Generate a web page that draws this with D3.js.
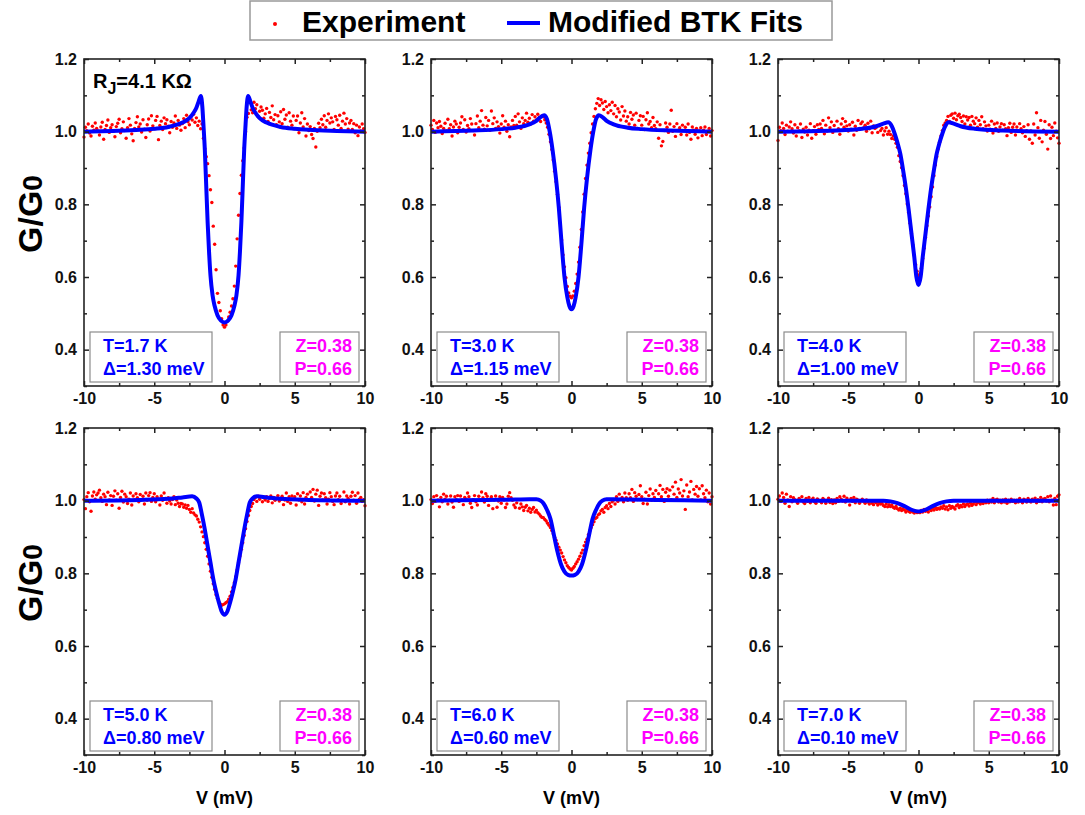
<!DOCTYPE html>
<meta charset="utf-8">
<head>
    <meta charset="UTF-8">
    <title>Modified BTK fits of G/G0 vs V</title>
    <style>
      body { margin: 0; background: #fff; }
      text { font-family: "Liberation Sans", Arial, sans-serif; font-weight: bold; }
    </style>
</head>
<body>
<script src="https://d3js.org/d3.v7.min.js"></script>
<div id="chart"></div>
<script>

    // bias sweep, -10 .. 10 mV in 0.1 mV steps (x grid of every measured curve)
    const voltage = d3.range(-100, 101).map(i => i / 10);

    // measured G/G0, one value per voltage step
    const expT17 = [
      0.985,1.012,1.003,1.021,0.996,0.988,1.015,1.004,1.024,1.009,
      1.002,0.991,1.013,1.026,0.979,1.006,1.017,1.032,0.998,1.011,
      1.019,1.001,0.986,1.014,1.023,1.034,0.997,1.008,1.027,1.003,
      0.982,1.011,1.036,1.018,0.994,0.975,1.009,1.025,1.041,1.013,
      1.021,0.999,1.033,1.007,0.984,1.019,1.035,1.002,1.044,1.016,
      1.008,1.031,1.042,0.978,1.017,1.029,1.006,1.038,1.022,1.033,
      1.015,0.997,1.028,1.012,1.024,1.043,1.009,1.031,1.018,1.004,
      1.022,1.036,1.011,1.045,1.027,1.019,1.041,1.032,1.048,1.026,
      1.038,1.017,1.029,1.008,1.021,0.982,0.953,0.931,0.912,0.879,
      0.84,0.805,0.74,0.69,0.62,0.555,0.53,0.507,0.485,0.468,
      0.462,0.468,0.478,0.49,0.503,0.52,0.54,0.575,0.63,0.705,
      0.77,0.83,0.88,0.92,0.955,1.00,1.04,1.05,1.08,1.06,
      1.052,1.081,1.063,1.074,1.041,1.056,1.068,1.059,1.037,1.049,
      1.064,1.028,1.053,1.039,1.071,1.033,1.047,1.019,1.044,1.027,
      1.055,1.022,1.061,1.034,1.046,1.012,1.052,1.029,1.018,1.043,
      1.008,1.031,1.043,0.997,1.024,1.052,1.013,1.036,0.988,1.021,
      1.003,1.014,0.992,0.981,1.009,0.958,1.001,1.023,1.011,1.034,
      1.019,1.044,1.012,1.031,1.049,1.024,1.038,1.027,1.006,1.042,
      1.033,1.018,1.045,1.009,1.029,1.051,1.021,1.036,1.007,1.024,
      1.031,1.006,1.022,0.997,1.018,0.989,1.013,1.002,1.021,1.008,
      0.998];
    const expT30 = [
      1.018,1.006,1.031,0.998,1.024,1.011,1.028,1.015,0.995,1.009,
      1.023,1.002,1.034,1.008,1.019,0.988,1.013,1.029,1.021,0.997,
      1.012,1.024,1.041,1.006,1.033,0.999,1.017,1.008,1.036,1.021,
      1.003,0.991,1.022,1.043,1.011,1.029,1.058,1.018,1.007,1.039,
      1.016,1.031,1.004,1.057,1.022,1.038,1.009,1.027,1.014,0.996,
      1.021,1.044,1.012,1.029,1.001,1.019,0.986,1.013,1.031,1.017,
      1.042,1.018,1.049,1.027,1.009,1.038,1.022,1.031,1.051,1.026,
      1.037,1.021,1.047,1.029,1.041,1.032,1.048,1.039,1.028,1.043,
      1.041,1.033,1.024,1.012,0.993,0.972,0.951,0.922,0.891,0.862,
      0.828,0.792,0.748,0.702,0.661,0.628,0.598,0.574,0.556,0.547,
      0.543,0.548,0.561,0.582,0.608,0.641,0.682,0.731,0.779,0.828,
      0.871,0.908,0.941,0.968,0.997,1.021,1.042,1.063,1.078,1.091,
      1.072,1.088,1.079,1.061,1.083,1.069,1.052,1.074,1.058,1.081,
      1.049,1.072,1.041,1.063,1.054,1.032,1.069,1.043,1.057,1.029,
      1.041,1.021,1.053,1.034,1.046,1.018,1.051,1.009,1.031,1.044,
      1.018,1.042,1.006,1.033,1.052,1.021,1.028,1.011,1.039,1.017,
      1.008,1.027,0.982,1.019,0.961,0.973,1.003,1.024,1.012,0.998,
      1.021,1.059,1.001,1.014,0.987,1.022,1.004,1.011,0.992,1.018,
      1.003,1.012,0.991,1.021,0.998,0.979,1.013,1.004,0.993,1.009,
      0.983,1.002,1.011,0.989,1.004,1.013,0.992,1.001,1.009,0.988,
      1.003];
    const expT40 = [
      0.976,1.012,1.003,1.024,1.009,0.992,1.018,1.001,1.013,1.027,
      1.008,0.996,1.019,0.988,1.011,1.002,1.021,0.984,1.007,0.999,
      1.012,0.991,1.004,1.022,0.982,1.003,1.014,0.993,1.019,1.006,
      1.021,1.009,1.031,0.994,1.018,1.002,1.038,1.011,1.027,0.998,
      1.017,1.003,1.029,1.008,0.993,1.021,1.036,1.012,1.028,1.016,
      1.002,1.019,1.007,1.026,0.991,1.015,1.004,1.031,1.009,1.022,
      1.027,1.011,1.018,1.001,1.023,1.008,1.029,0.997,1.016,1.009,
      1.012,0.998,1.016,1.003,1.009,0.991,1.002,1.011,0.993,1.001,
      0.992,0.981,0.988,0.979,0.968,0.957,0.934,0.918,0.901,0.879,
      0.852,0.829,0.801,0.778,0.748,0.719,0.688,0.659,0.634,0.616,
      0.604,0.609,0.624,0.651,0.679,0.709,0.741,0.768,0.793,0.821,
      0.848,0.879,0.908,0.931,0.952,0.971,0.988,1.003,1.018,1.024,
      1.031,1.042,1.028,1.045,1.049,1.037,1.051,1.033,1.044,1.048,
      1.039,1.028,1.043,1.021,1.041,1.032,1.039,1.018,1.042,1.029,
      1.022,1.038,1.012,1.031,1.019,1.041,1.008,1.027,1.016,1.002,
      1.018,1.007,1.029,0.996,1.021,1.009,1.024,1.001,1.013,1.022,
      1.004,1.019,1.008,0.989,1.011,1.023,0.998,1.012,1.021,0.991,
      1.013,1.001,1.022,1.008,0.997,1.014,0.987,1.003,1.019,0.979,
      1.002,0.968,1.021,0.991,1.052,1.011,0.982,1.031,0.972,1.004,
      1.028,0.993,0.952,1.019,0.981,1.012,0.989,1.024,1.001,0.983,
      0.968];
    const expT50 = [
      1.003,0.978,1.011,1.022,0.997,0.971,1.013,1.024,1.004,1.016,
      1.021,1.029,1.008,0.998,1.018,1.011,0.989,1.023,1.002,1.014,
      0.987,1.012,1.027,1.001,1.019,0.979,1.009,1.026,0.996,1.018,
      1.011,0.992,1.004,1.021,0.988,1.013,1.002,1.019,1.008,0.997,
      1.017,1.003,1.012,0.991,1.021,1.001,1.014,1.022,0.998,1.009,
      1.019,0.997,1.011,1.004,0.988,1.013,1.001,1.021,1.006,0.993,
      1.008,0.999,0.991,1.003,1.011,0.989,1.002,0.993,0.984,0.992,
      0.991,0.982,0.988,0.979,0.987,0.976,0.968,0.978,0.966,0.961,
      0.958,0.949,0.941,0.928,0.914,0.901,0.884,0.866,0.847,0.826,
      0.806,0.789,0.771,0.756,0.741,0.731,0.722,0.716,0.712,0.714,
      0.716,0.719,0.722,0.729,0.737,0.749,0.761,0.774,0.791,0.809,
      0.829,0.848,0.866,0.884,0.904,0.923,0.943,0.959,0.973,0.984,
      0.992,1.003,1.009,0.998,1.012,1.004,1.011,0.997,1.008,1.002,
      1.011,0.998,1.006,1.013,0.994,1.009,1.001,1.007,1.014,0.999,
      1.003,1.012,0.989,1.002,1.021,0.998,1.011,0.993,1.013,1.004,
      1.011,0.988,1.019,1.002,1.013,0.997,1.022,0.991,1.009,1.018,
      1.003,1.024,1.009,1.031,0.999,1.018,1.029,0.987,1.012,1.021,
      1.002,1.019,1.008,0.991,1.004,1.022,1.011,0.998,0.989,1.013,
      1.021,1.003,1.012,0.992,1.001,1.024,0.997,1.013,1.006,0.991,
      1.012,1.023,1.001,1.014,0.993,1.021,1.004,1.009,0.998,1.003,
      0.986];
    const expT60 = [
      1.003,0.992,1.011,0.998,1.014,1.002,0.983,1.009,0.997,1.018,
      1.004,1.012,0.991,1.001,1.013,0.996,0.982,1.011,1.003,1.014,
      0.998,1.013,1.002,0.989,1.009,1.004,1.021,1.011,0.993,0.981,
      1.003,1.014,0.997,0.988,1.012,1.001,1.024,1.008,0.996,1.019,
      1.012,0.987,1.004,1.011,0.978,1.002,1.013,0.982,0.999,1.011,
      0.993,1.009,1.002,0.981,0.991,1.012,1.022,1.008,1.001,0.988,
      0.981,0.994,1.003,0.979,0.991,0.983,0.973,0.982,0.987,0.972,
      0.979,0.968,0.976,0.981,0.969,0.974,0.967,0.963,0.958,0.954,
      0.953,0.948,0.944,0.938,0.932,0.926,0.918,0.909,0.899,0.891,
      0.881,0.872,0.864,0.856,0.846,0.837,0.829,0.821,0.816,0.812,
      0.809,0.814,0.819,0.826,0.832,0.839,0.847,0.856,0.864,0.876,
      0.886,0.894,0.906,0.917,0.926,0.934,0.942,0.951,0.954,0.961,
      0.964,0.972,0.976,0.968,0.981,0.986,0.978,0.992,0.984,0.997,
      1.002,0.991,1.011,0.998,1.018,1.003,1.009,0.997,1.021,1.008,
      1.001,1.019,1.008,1.031,0.998,1.022,1.012,1.003,1.017,1.041,
      1.011,0.992,1.004,1.023,0.991,1.014,1.032,1.001,1.019,1.009,
      1.028,1.002,1.019,1.042,1.011,1.031,0.998,1.023,1.033,1.012,
      1.029,1.003,1.038,1.018,1.051,1.009,1.032,1.021,1.058,1.013,
      1.027,0.976,1.043,1.011,1.024,1.053,1.002,1.031,1.018,1.039,
      1.012,1.033,1.002,1.041,1.019,1.008,1.029,0.997,1.021,0.991,
      1.011];
    const expT70 = [
      1.004,1.013,0.998,1.021,1.009,0.993,1.018,1.002,0.984,1.011,
      0.997,1.008,1.003,0.999,0.993,1.006,1.001,1.011,0.996,0.992,
      1.006,0.998,1.009,0.994,1.003,1.007,0.997,0.993,1.005,1.001,
      0.999,0.994,1.006,1.002,0.993,1.001,1.007,0.995,1.003,0.992,
      1.002,0.994,1.006,0.998,1.011,1.004,0.999,1.012,0.996,1.007,
      1.001,0.988,1.006,0.998,1.009,0.994,1.004,1.001,0.993,0.999,
      1.004,0.998,0.993,1.002,0.996,0.991,0.999,0.993,0.989,0.996,
      0.994,0.988,0.995,0.991,0.993,0.987,0.984,0.991,0.983,0.989,
      0.984,0.988,0.982,0.979,0.984,0.978,0.974,0.979,0.973,0.978,
      0.974,0.969,0.976,0.971,0.968,0.973,0.969,0.966,0.971,0.967,
      0.969,0.967,0.973,0.969,0.976,0.971,0.974,0.969,0.977,0.973,
      0.979,0.974,0.981,0.976,0.979,0.977,0.983,0.979,0.986,0.977,
      0.983,0.975,0.986,0.979,0.984,0.981,0.977,0.986,0.989,0.981,
      0.987,0.983,0.991,0.984,0.989,0.991,0.985,0.993,0.987,0.991,
      0.996,0.989,0.994,0.996,0.991,0.997,0.992,0.999,0.994,1.001,
      0.994,1.001,0.996,1.006,0.994,1.002,1.004,0.996,1.001,0.994,
      1.002,0.996,1.004,0.993,1.001,0.997,1.004,0.998,1.001,0.994,
      1.001,0.996,1.006,0.999,0.994,1.004,1.001,0.996,1.006,0.999,
      0.996,1.004,0.999,1.007,0.994,1.003,0.998,1.009,0.997,1.004,
      1.006,0.999,1.011,0.997,1.013,1.001,0.988,1.006,0.989,1.012,
      1.016];

    // modified BTK fit curves, [V, G/G0]
    const fitT17 = [[-10,1.0],[-8,1.002],[-6,1.005],[-5,1.008],[-4,1.013],[-3,1.025],[-2.5,1.037],[-2.2,1.052],
      [-2.0,1.066],[-1.85,1.082],[-1.68,1.098],[-1.58,1.07],[-1.5,1.02],[-1.4,0.95],[-1.3,0.85],[-1.2,0.75],
      [-1.1,0.67],[-1.0,0.605],[-0.85,0.55],[-0.7,0.52],[-0.5,0.495],[-0.25,0.48],[0,0.475],
      [0.25,0.48],[0.5,0.495],[0.7,0.52],[0.85,0.55],[1.0,0.605],[1.1,0.67],[1.2,0.75],[1.3,0.85],[1.4,0.95],
      [1.5,1.02],[1.58,1.07],[1.68,1.098],[1.85,1.082],[2.0,1.066],[2.2,1.052],[2.5,1.037],[3,1.025],
      [4,1.013],[5,1.008],[6,1.005],[8,1.002],[10,1.0]];
    const fitT30 = [[-10,1.0],[-7,1.003],[-5,1.007],[-4,1.011],[-3,1.02],[-2.5,1.03],[-2.2,1.04],[-1.95,1.045],
      [-1.75,1.035],[-1.55,1.0],[-1.35,0.95],[-1.1,0.87],[-0.9,0.79],[-0.7,0.69],[-0.5,0.6],[-0.3,0.545],
      [-0.15,0.52],[0,0.511],[0.15,0.52],[0.3,0.545],[0.5,0.6],[0.7,0.69],[0.9,0.79],[1.1,0.87],[1.35,0.95],
      [1.55,1.0],[1.75,1.035],[1.95,1.045],[2.2,1.04],[2.5,1.03],[3,1.02],[4,1.011],[5,1.007],[7,1.003],[10,1.0]];
    const fitT40 = [[-10,1.0],[-6,1.003],[-4,1.008],[-3,1.015],[-2.5,1.022],[-2.15,1.026],[-1.9,1.015],
      [-1.7,0.995],[-1.5,0.97],[-1.3,0.94],[-1.1,0.895],[-0.9,0.845],[-0.7,0.785],[-0.5,0.72],[-0.3,0.655],
      [-0.15,0.6],[0,0.578],[0.15,0.6],[0.3,0.655],[0.5,0.72],[0.7,0.785],[0.9,0.845],[1.1,0.895],[1.3,0.94],
      [1.5,0.97],[1.7,0.995],[1.9,1.015],[2.15,1.026],[2.5,1.022],[3,1.015],[4,1.008],[6,1.003],[10,1.0]];
    const fitT50 = [[-10,1.0],[-6,1.002],[-4,1.005],[-3,1.009],[-2.3,1.012],[-2.0,1.006],[-1.8,0.995],
      [-1.6,0.96],[-1.4,0.92],[-1.2,0.875],[-1.0,0.83],[-0.8,0.785],[-0.6,0.75],[-0.4,0.72],[-0.2,0.695],
      [0,0.686],[0.2,0.695],[0.4,0.72],[0.6,0.75],[0.8,0.785],[1.0,0.83],[1.2,0.875],[1.4,0.92],[1.6,0.96],
      [1.8,0.995],[2.0,1.006],[2.3,1.012],[3,1.009],[4,1.005],[6,1.002],[10,1.0]];
    const fitT60 = [[-10,1.0],[-6,1.002],[-4,1.003],[-3,1.004],[-2.5,1.004],[-2.2,1.0],[-2.0,0.993],
      [-1.75,0.975],[-1.5,0.95],[-1.25,0.905],[-1.0,0.86],[-0.75,0.825],[-0.5,0.805],[-0.25,0.796],
      [0,0.794],[0.25,0.796],[0.5,0.805],[0.75,0.825],[1.0,0.86],[1.25,0.905],[1.5,0.95],[1.75,0.975],
      [2.0,0.993],[2.2,1.0],[2.5,1.004],[3,1.004],[4,1.003],[6,1.002],[10,1.0]];
    const fitT70 = [[-10,1.0],[-2.5,1.0],[-2.0,0.998],[-1.5,0.993],[-1.0,0.985],[-0.5,0.975],[0,0.97],
      [0.5,0.975],[1.0,0.985],[1.5,0.993],[2.0,0.998],[2.5,1.0],[10,1.0]];

    // panel annotations
    const tempLabels = ["T=1.7 K", "T=3.0 K", "T=4.0 K", "T=5.0 K", "T=6.0 K", "T=7.0 K"];
    const gapLabels = ["Δ=1.30 meV", "Δ=1.15 meV", "Δ=1.00 meV", "Δ=0.80 meV", "Δ=0.60 meV", "Δ=0.10 meV"];
    const zLabel = "Z=0.38", pLabel = "P=0.66";

    // tick values
    const xMajor = [-10, -5, 0, 5, 10], xMinor = [-7.5, -2.5, 2.5, 7.5];
    const yMajor = [0.4, 0.6, 0.8, 1.0, 1.2], yMinor = [0.3, 0.5, 0.7, 0.9, 1.1];

    const experiments = [expT17, expT30, expT40, expT50, expT60, expT70];
    const fits = [fitT17, fitT30, fitT40, fitT50, fitT60, fitT70];

    // layout
    const W = 1085, H = 815;
    const colX = [84, 431, 778], rowY = [59, 428];
    const pw = 281, ph = 327;

    const svg = d3.select("#chart")
      .append("svg")
        .attr("width", W)
        .attr("height", H);

    const x = d3.scaleLinear().domain([-10, 10]).range([0, pw]);
    const y = d3.scaleLinear().domain([0.3, 1.2]).range([ph, 0]);

    const line = d3.line()
      .x(d => x(d[0]))
      .y(d => y(d[1]))
      .curve(d3.curveMonotoneX);

    const blue = "#0000ff", red = "#ff0000", magenta = "#ff00ff";

    experiments.forEach((exp, i) => {
      const col = i % 3, row = Math.floor(i / 3);
      const g = svg.append("g")
        .attr("transform", `translate(${colX[col]},${rowY[row]})`);

      // measured points
      g.append("g")
        .selectAll("circle")
        .data(exp)
        .join("circle")
          .attr("cx", (d, j) => x(voltage[j]))
          .attr("cy", d => y(d))
          .attr("r", 1.7)
          .attr("fill", red);

      // fit
      g.append("path")
        .datum(fits[i])
        .attr("d", line)
        .attr("fill", "none")
        .attr("stroke", blue)
        .attr("stroke-width", 4);

      // axes, ticks pointing inward on all four sides
      const fmt = d => String(d);
      const ax = [
        [d3.axisBottom(x).tickValues(xMajor).tickSize(-5).tickPadding(7).tickFormat(fmt), `translate(0,${ph})`],
        [d3.axisBottom(x).tickValues(xMinor).tickSize(-3).tickFormat(""), `translate(0,${ph})`],
        [d3.axisTop(x).tickValues(xMajor).tickSize(-5).tickFormat(""), null],
        [d3.axisTop(x).tickValues(xMinor).tickSize(-3).tickFormat(""), null],
        [d3.axisLeft(y).tickValues(yMajor).tickSize(-5).tickPadding(7).tickFormat(d3.format(".1f")), null],
        [d3.axisLeft(y).tickValues(yMinor).tickSize(-3).tickFormat(""), null],
        [d3.axisRight(y).tickValues(yMajor).tickSize(-5).tickFormat(""), `translate(${pw},0)`],
        [d3.axisRight(y).tickValues(yMinor).tickSize(-3).tickFormat(""), `translate(${pw},0)`]
      ];
      ax.forEach(([a, tr]) => {
        const ag = g.append("g").call(a);
        if (tr) ag.attr("transform", tr);
        ag.select(".domain").remove();
        ag.selectAll("line").attr("stroke", "#222").attr("stroke-width", 1.5);
        ag.selectAll("text")
          .style("font-size", "16px")
          .attr("fill", "#111");
      });

      g.append("rect")
        .attr("width", pw)
        .attr("height", ph)
        .attr("fill", "none")
        .attr("stroke", "#222")
        .attr("stroke-width", 1.6);

      // T / gap box
      g.append("rect")
        .attr("x", 6).attr("y", ph - 54)
        .attr("width", 122).attr("height", 50)
        .attr("fill", "#fff")
        .attr("stroke", "#8c8c8c")
        .attr("stroke-width", 1.2);
      g.append("text")
        .attr("x", 19).attr("y", ph - 34)
        .attr("fill", blue)
        .style("font-size", "18px")
        .text(tempLabels[i]);
      g.append("text")
        .attr("x", 19).attr("y", ph - 11)
        .attr("fill", blue)
        .style("font-size", "18px")
        .text(gapLabels[i]);

      // Z / P box
      g.append("rect")
        .attr("x", pw - 85).attr("y", ph - 54)
        .attr("width", 79).attr("height", 50)
        .attr("fill", "#fff")
        .attr("stroke", "#8c8c8c")
        .attr("stroke-width", 1.2);
      g.append("text")
        .attr("x", pw - 13).attr("y", ph - 34)
        .attr("text-anchor", "end")
        .attr("fill", magenta)
        .style("font-size", "18px")
        .text(zLabel);
      g.append("text")
        .attr("x", pw - 13).attr("y", ph - 11)
        .attr("text-anchor", "end")
        .attr("fill", magenta)
        .style("font-size", "18px")
        .text(pLabel);

      // x label on the bottom row
      if (row === 1) {
        g.append("text")
          .attr("x", pw / 2)
          .attr("y", ph + 49)
          .attr("text-anchor", "middle")
          .style("font-size", "18px")
          .text("V (mV)");
      }
    });

    // junction resistance, first panel
    const rj = svg.append("text")
      .attr("x", colX[0] + 9)
      .attr("y", rowY[0] + 29)
      .style("font-size", "20px");
    rj.append("tspan").text("R");
    rj.append("tspan").attr("dy", 6).style("font-size", "16px").text("J");
    rj.append("tspan").attr("dy", -6).text("=4.1 KΩ");

    // y labels
    rowY.forEach(r => {
      const t = svg.append("text")
        .attr("transform", `translate(42,${r + 155}) rotate(-90)`)
        .attr("text-anchor", "middle")
        .style("font-size", "34px");
      t.append("tspan").text("G/G");
      t.append("tspan").style("font-size", "28px").text("0");
    });

    // legend
    const lg = svg.append("g");
    lg.append("rect")
      .attr("x", 250).attr("y", 1)
      .attr("width", 582).attr("height", 39)
      .attr("fill", "#fff")
      .attr("stroke", "#999")
      .attr("stroke-width", 1.5);
    lg.append("circle")
      .attr("cx", 275).attr("cy", 24)
      .attr("r", 2)
      .attr("fill", red);
    lg.append("text")
      .attr("x", 302).attr("y", 32)
      .style("font-size", "30px")
      .text("Experiment");
    lg.append("line")
      .attr("x1", 507).attr("x2", 540)
      .attr("y1", 23).attr("y2", 23)
      .attr("stroke", blue)
      .attr("stroke-width", 4);
    lg.append("text")
      .attr("x", 548).attr("y", 32)
      .style("font-size", "30px")
      .text("Modified BTK Fits");

</script>
</body>
